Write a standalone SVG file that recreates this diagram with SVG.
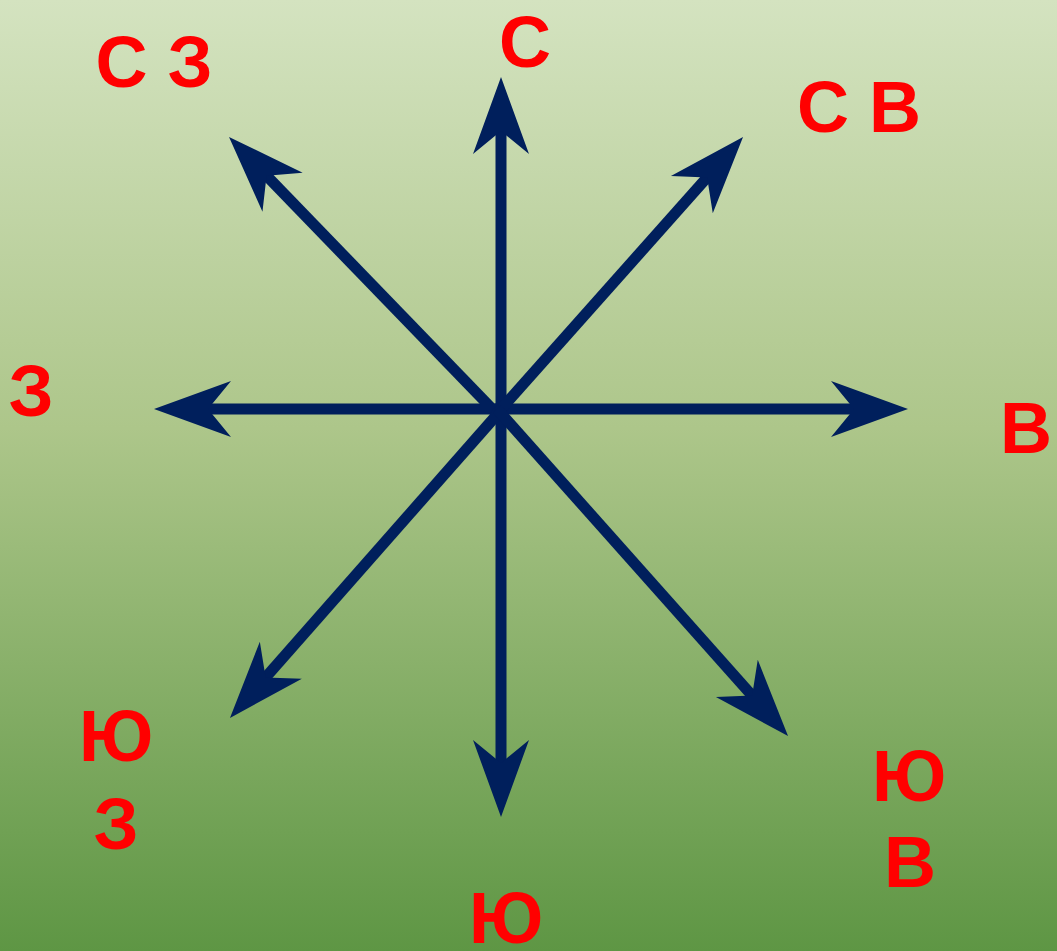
<svg xmlns="http://www.w3.org/2000/svg" width="1057" height="951" viewBox="0 0 1057 951">
  <defs>
    <linearGradient id="bg" x1="0" y1="0" x2="0" y2="1">
      <stop offset="0" stop-color="#d4e3c0"/>
      <stop offset="0.45" stop-color="#adc68a"/>
      <stop offset="1" stop-color="#5e9644"/>
    </linearGradient>
    <marker id="head" markerUnits="userSpaceOnUse" markerWidth="120" markerHeight="80" viewBox="-40 -40 100 80" refX="0" refY="0" orient="auto" overflow="visible">
      <path d="M50,0 L-27,-28 L-4,0 L-27,28 Z" fill="#001f5c"/>
    </marker>
    <style>
      .arrow { stroke: #001f5c; stroke-width: 11; fill: none; marker-end: url(#head); }
      .lbl { font-family: "Liberation Sans", Arial, sans-serif; font-weight: bold; font-size: 72px; fill: #ff0000; text-anchor: middle; }
    </style>
  </defs>
  <rect x="0" y="0" width="1057" height="951" fill="url(#bg)"/>
  <g id="connectors">
    <line class="arrow" x1="501" y1="414" x2="501" y2="127"/>
    <line class="arrow" x1="501" y1="405" x2="501" y2="767"/>
    <line class="arrow" x1="495" y1="409" x2="858" y2="409"/>
    <line class="arrow" x1="507" y1="409" x2="204" y2="409"/>
    <line class="arrow" x1="500" y1="417" x2="263.8" y2="172.9"/>
    <line class="arrow" x1="494" y1="417" x2="709.8" y2="174.4"/>
    <line class="arrow" x1="502" y1="409" x2="263" y2="680.4"/>
    <line class="arrow" x1="497" y1="409" x2="754.8" y2="698.6"/>
  </g>
  <g id="label-n"><text class="lbl" x="525" y="67">С</text></g>
  <g id="label-nw"><text class="lbl" x="154" y="87">С З</text></g>
  <g id="label-ne"><text class="lbl" x="859" y="132">С В</text></g>
  <g id="label-w"><text class="lbl" x="31" y="416">З</text></g>
  <g id="label-e"><text class="lbl" x="1026" y="453">В</text></g>
  <g id="label-sw"><text class="lbl" x="116" y="761">Ю</text><text class="lbl" x="116" y="849">З</text></g>
  <g id="label-se"><text class="lbl" x="909" y="801">Ю</text><text class="lbl" x="910" y="887">В</text></g>
  <g id="label-s"><text class="lbl" x="506" y="943">Ю</text></g>
</svg>
